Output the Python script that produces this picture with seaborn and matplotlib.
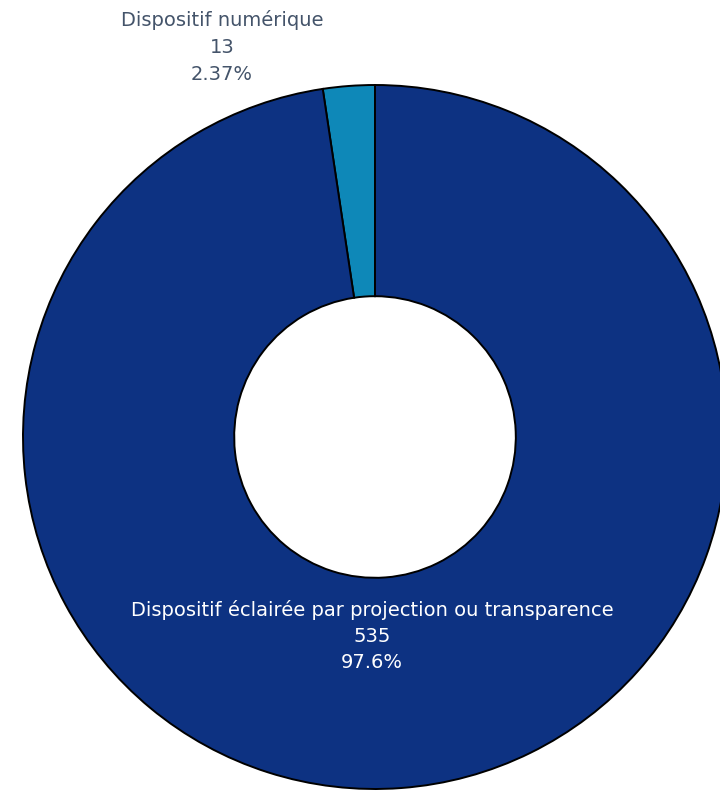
import matplotlib.pyplot as plt
import seaborn as sns

categories = ["Dispositif numérique", "Dispositif éclairée par projection ou transparence"]
counts = [13, 535]
pct_labels = ["2.37%", "97.6%"]
colors = ["#0E88B8", "#0D3282"]

sns.set_theme(style="white")
plt.rcParams["font.family"] = ["DejaVu Sans"]

fig = plt.figure(figsize=(7.2, 7.92), dpi=100)
ax = fig.add_axes([0, 0, 1, 1])

# centre of the donut at pixel (375, 437), radius 352 px
r_px = 352.0
cx, cy = 375.0, 437.0
ax.pie(
    counts,
    colors=colors,
    startangle=90,
    counterclock=True,
    radius=1.0,
    wedgeprops=dict(width=0.6, edgecolor="black", linewidth=1.4),
)
ax.set_aspect("auto")
ax.set_xlim(-cx / r_px, (720 - cx) / r_px)
ax.set_ylim(-(792 - cy) / r_px, cy / r_px)
ax.axis("off")

ax.text(
    (222 - cx) / r_px, (cy - 47) / r_px,
    f"{categories[0]}\n{counts[0]}\n{pct_labels[0]}",
    ha="center", va="center", fontsize=14, color="#44546A", linespacing=1.5,
)
ax.text(
    (372 - cx) / r_px, (cy - 636) / r_px,
    f"{categories[1]}\n{counts[1]}\n{pct_labels[1]}",
    ha="center", va="center", fontsize=14, color="white", linespacing=1.5,
)

fig.savefig("out.png", dpi=100)
